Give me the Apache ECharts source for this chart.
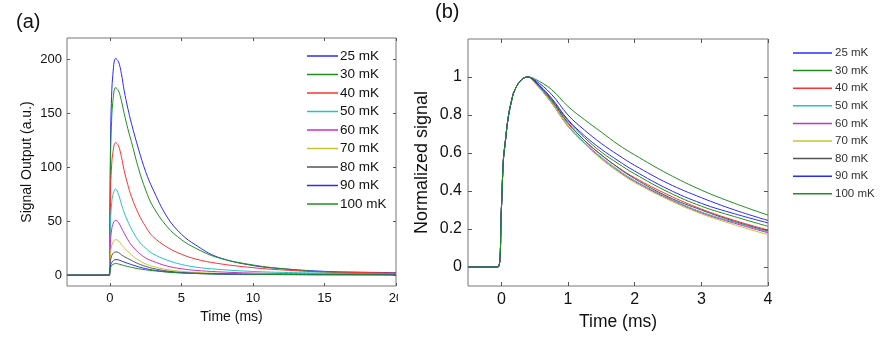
<!DOCTYPE html>
<html>
<head>
<meta charset="utf-8">
<script src="https://cdn.jsdelivr.net/npm/echarts@6/dist/echarts.min.js"></script>
<style>
    html, body { margin: 0; padding: 0; background: #fff; }
    #chart { width: 884px; height: 344px; }
</style>
</head>
<body>
<div id="chart"></div>
<script>
    // legend names and colours
    var names = ['25 mK', '30 mK', '40 mK', '50 mK', '60 mK', '70 mK', '80 mK', '90 mK', '100 mK'];
    var colors = ['#2b2bff', '#1f8f1f', '#ff3030', '#20c4c4', '#c830c8', '#c4c430', '#555555', '#2b2bff', '#1f8f1f'];

    // tick labels
    var xTicksA = [0, 5, 10, 15, 20];
    var yTicksA = [0, 50, 100, 150, 200];
    var xTicksB = [0, 1, 2, 3, 4];
    var yTicksB = [0, 0.2, 0.4, 0.6, 0.8, 1];

    // (a) signal output vs time (ms)
    var timeA = [-3, -0.05, 0, 0.05, 0.1, 0.2, 0.4, 0.6, 0.8, 1.0, 1.25, 1.5, 2.0, 2.5, 3.0, 4.0, 5.0, 6.0, 7.5, 10, 12.5, 15, 17.5, 20];
    var sig25 = [0, 0, 60, 131, 159, 185, 201, 198, 187, 171, 155, 141, 117, 96, 80, 54, 38, 28, 17, 9, 5.6, 3.6, 2.8, 2.4];
    var sig30 = [0, 0, 52, 113, 137, 160, 174, 171, 162, 150, 136, 124, 99, 79, 64, 45, 33, 25, 16.5, 9.5, 5.5, 3, 2, 1.5];
    var sig40 = [0, 0, 37, 80, 97, 113, 123, 120, 110, 97, 84, 73, 57, 45, 36, 26, 19.5, 15, 11, 7, 4.5, 3, 2.5, 2];
    var sig50 = [0, 0, 24, 52, 63, 74, 80, 75, 66, 58, 50, 43, 32, 25, 20, 14, 10, 7.5, 5.5, 3.5, 2.5, 2, 1.5, 1.2];
    var sig60 = [0, 0, 15, 33, 40, 47, 51, 49, 44, 39, 33, 28, 21, 16, 13, 8.5, 6, 4.5, 3.2, 2, 1.5, 1.2, 1, 0.8];
    var sig70 = [0, 0, 10, 21, 26, 30, 33, 32, 28.5, 25.5, 22, 19, 14, 10.5, 8.2, 5.2, 3.6, 2.6, 1.8, 1.1, 0.8, 0.6, 0.5, 0.4];
    var sig80 = [0, 0, 6, 14, 17, 20, 21.6, 21, 19, 17.3, 15.5, 13.8, 10.6, 8.2, 6.3, 3.9, 2.6, 1.9, 1.3, 0.8, 0.6, 0.5, 0.4, 0.3];
    var sig90 = [0, 0, 4, 9, 11, 13, 14.5, 14.2, 13.2, 12.2, 11, 9.9, 7.8, 6.1, 4.8, 3.1, 2.2, 1.6, 1.1, 0.7, 0.6, 0.5, 0.5, 0.4];
    var sig100 = [0, 0, 3, 7, 8.5, 10, 10.8, 10.4, 9.7, 8.9, 8.1, 7.3, 6, 5, 4.2, 2.9, 2.1, 1.6, 1.2, 0.8, 0.6, 0.5, 0.5, 0.4];

    // (b) normalized signal vs time (ms)
    var timeB = [-0.5, -0.05, 0, 0.03, 0.06, 0.1, 0.15, 0.2, 0.3, 0.4, 0.5, 0.75, 1.0, 1.25, 1.5, 1.75, 2.0, 2.5, 3.0, 3.5, 4.0];
    var norm25 = [0, 0, 0.3, 0.56, 0.66, 0.78, 0.87, 0.93, 0.985, 1, 0.985, 0.91, 0.80, 0.72, 0.65, 0.59, 0.535, 0.44, 0.365, 0.30, 0.245];
    var norm30 = [0, 0, 0.3, 0.56, 0.66, 0.78, 0.87, 0.93, 0.985, 1, 0.98, 0.885, 0.77, 0.68, 0.605, 0.545, 0.49, 0.395, 0.32, 0.265, 0.214];
    var norm40 = [0, 0, 0.3, 0.56, 0.66, 0.78, 0.87, 0.93, 0.985, 1, 0.975, 0.875, 0.755, 0.665, 0.59, 0.525, 0.47, 0.38, 0.305, 0.245, 0.195];
    var norm50 = [0, 0, 0.3, 0.56, 0.66, 0.78, 0.87, 0.93, 0.985, 1, 0.975, 0.87, 0.745, 0.655, 0.578, 0.512, 0.455, 0.365, 0.29, 0.235, 0.185];
    var norm60 = [0, 0, 0.3, 0.56, 0.66, 0.78, 0.87, 0.93, 0.985, 1, 0.97, 0.865, 0.74, 0.65, 0.572, 0.506, 0.45, 0.36, 0.285, 0.23, 0.18];
    var norm70 = [0, 0, 0.3, 0.56, 0.66, 0.78, 0.87, 0.93, 0.985, 1, 0.97, 0.865, 0.74, 0.648, 0.568, 0.502, 0.445, 0.355, 0.28, 0.222, 0.17];
    var norm80 = [0, 0, 0.3, 0.56, 0.66, 0.78, 0.87, 0.93, 0.985, 1, 0.975, 0.88, 0.76, 0.665, 0.59, 0.523, 0.465, 0.37, 0.30, 0.24, 0.19];
    var norm90 = [0, 0, 0.3, 0.56, 0.66, 0.78, 0.87, 0.93, 0.985, 1, 0.98, 0.89, 0.775, 0.69, 0.62, 0.56, 0.505, 0.41, 0.335, 0.28, 0.232];
    var norm100 = [0, 0, 0.3, 0.56, 0.66, 0.78, 0.87, 0.93, 0.985, 1, 0.99, 0.935, 0.845, 0.775, 0.71, 0.645, 0.59, 0.49, 0.405, 0.335, 0.273];

    var seriesA = [sig25, sig30, sig40, sig50, sig60, sig70, sig80, sig90, sig100];
    var seriesB = [norm25, norm30, norm40, norm50, norm60, norm70, norm80, norm90, norm100];

    var FONT = 'Liberation Sans, Arial, sans-serif';

    function pairs(xs, ys) {
        return xs.map(function (x, i) { return [x, ys[i]]; });
    }

    function lineSeries(data, i, axisIdx) {
        return {
            type: 'line',
            name: names[i],
            xAxisIndex: axisIdx,
            yAxisIndex: axisIdx,
            data: data,
            showSymbol: false,
            smooth: 0.4,
            clip: true,
            lineStyle: {width: 1, color: colors[i]},
            itemStyle: {color: colors[i]},
            animation: false
        };
    }

    function valueAxis(opts) {
        var ax = {
            type: 'value',
            gridIndex: opts.grid,
            position: opts.position,
            min: opts.min,
            max: opts.max,
            splitLine: {show: false},
            axisLine: {show: false, onZero: false},
            axisTick: {show: true, inside: true, length: opts.tickLen, customValues: opts.ticks, lineStyle: {color: '#555'}},
            axisLabel: {show: false}
        };
        if (opts.labels) {
            ax.axisLabel = {
                show: true,
                customValues: opts.ticks,
                color: '#111',
                fontFamily: FONT,
                fontSize: opts.fontSize,
                margin: opts.margin
            };
        }
        if (opts.name) {
            ax.name = opts.name;
            ax.nameLocation = 'middle';
            ax.nameGap = opts.nameGap;
            ax.nameTextStyle = {color: '#111', fontFamily: FONT, fontSize: opts.nameSize};
        }
        return ax;
    }

    var series = [];
    seriesA.forEach(function (s, i) { series.push(lineSeries(pairs(timeA, s), i, 0)); });
    seriesB.forEach(function (s, i) { series.push(lineSeries(pairs(timeB, s), i, 2)); });

    var chart = echarts.init(document.getElementById('chart'));
    chart.setOption({
        animation: false,
        backgroundColor: '#fff',
        title: [
            {text: '(a)', left: 11, top: 7, textStyle: {fontFamily: FONT, fontSize: 20, fontWeight: 'normal', color: '#111'}},
            {text: '(b)', left: 430, top: -3, textStyle: {fontFamily: FONT, fontSize: 20, fontWeight: 'normal', color: '#111'}}
        ],
        grid: [
            {left: 67, top: 38, width: 329, height: 248, show: true, borderColor: '#777', borderWidth: 1, backgroundColor: 'transparent'},
            {left: 468, top: 39, width: 300, height: 247, show: true, borderColor: '#777', borderWidth: 1, backgroundColor: 'transparent'}
        ],
        xAxis: [
            valueAxis({grid: 0, position: 'bottom', min: -3, max: 20, ticks: xTicksA, tickLen: 3, labels: true, fontSize: 13, margin: 6,
                name: 'Time (ms)', nameGap: 19, nameSize: 14}),
            valueAxis({grid: 0, position: 'top', min: -3, max: 20, ticks: xTicksA, tickLen: 3}),
            valueAxis({grid: 1, position: 'bottom', min: -0.5, max: 4, ticks: xTicksB, tickLen: 4, labels: true, fontSize: 16, margin: 6,
                name: 'Time (ms)', nameGap: 25, nameSize: 17.5}),
            valueAxis({grid: 1, position: 'top', min: -0.5, max: 4, ticks: xTicksB, tickLen: 4})
        ],
        yAxis: [
            valueAxis({grid: 0, position: 'left', min: -10, max: 220, ticks: yTicksA, tickLen: 3, labels: true, fontSize: 13, margin: 5,
                name: 'Signal Output (a.u.)', nameGap: 33, nameSize: 14}),
            valueAxis({grid: 0, position: 'right', min: -10, max: 220, ticks: yTicksA, tickLen: 3}),
            valueAxis({grid: 1, position: 'left', min: -0.1, max: 1.2, ticks: yTicksB, tickLen: 4, labels: true, fontSize: 16, margin: 6,
                name: 'Normalized signal', nameGap: 37, nameSize: 18}),
            valueAxis({grid: 1, position: 'right', min: -0.1, max: 1.2, ticks: yTicksB, tickLen: 4})
        ],
        legend: [
            {
                data: names, orient: 'vertical', left: 302, top: 44,
                icon: 'rect', itemWidth: 31, itemHeight: 1.5, itemGap: 4.5,
                textStyle: {fontFamily: FONT, fontSize: 13.5, color: '#111', lineHeight: 14, padding: [0, 0, 0, -3]},
                selectedMode: false
            },
            {
                data: names, orient: 'vertical', left: 788, top: 42,
                icon: 'rect', itemWidth: 39, itemHeight: 1.5, itemGap: 5.6,
                textStyle: {fontFamily: FONT, fontSize: 11.5, color: '#333', lineHeight: 12, padding: [0, 0, 0, -2]},
                selectedMode: false
            }
        ],
        graphic: [
            // the source picture cuts the "20" label of panel (a)
            {type: 'rect', z: 100, shape: {x: 398, y: 289, width: 12, height: 16}, style: {fill: '#fff'}}
        ],
        series: series
    });
</script>
</body>
</html>
